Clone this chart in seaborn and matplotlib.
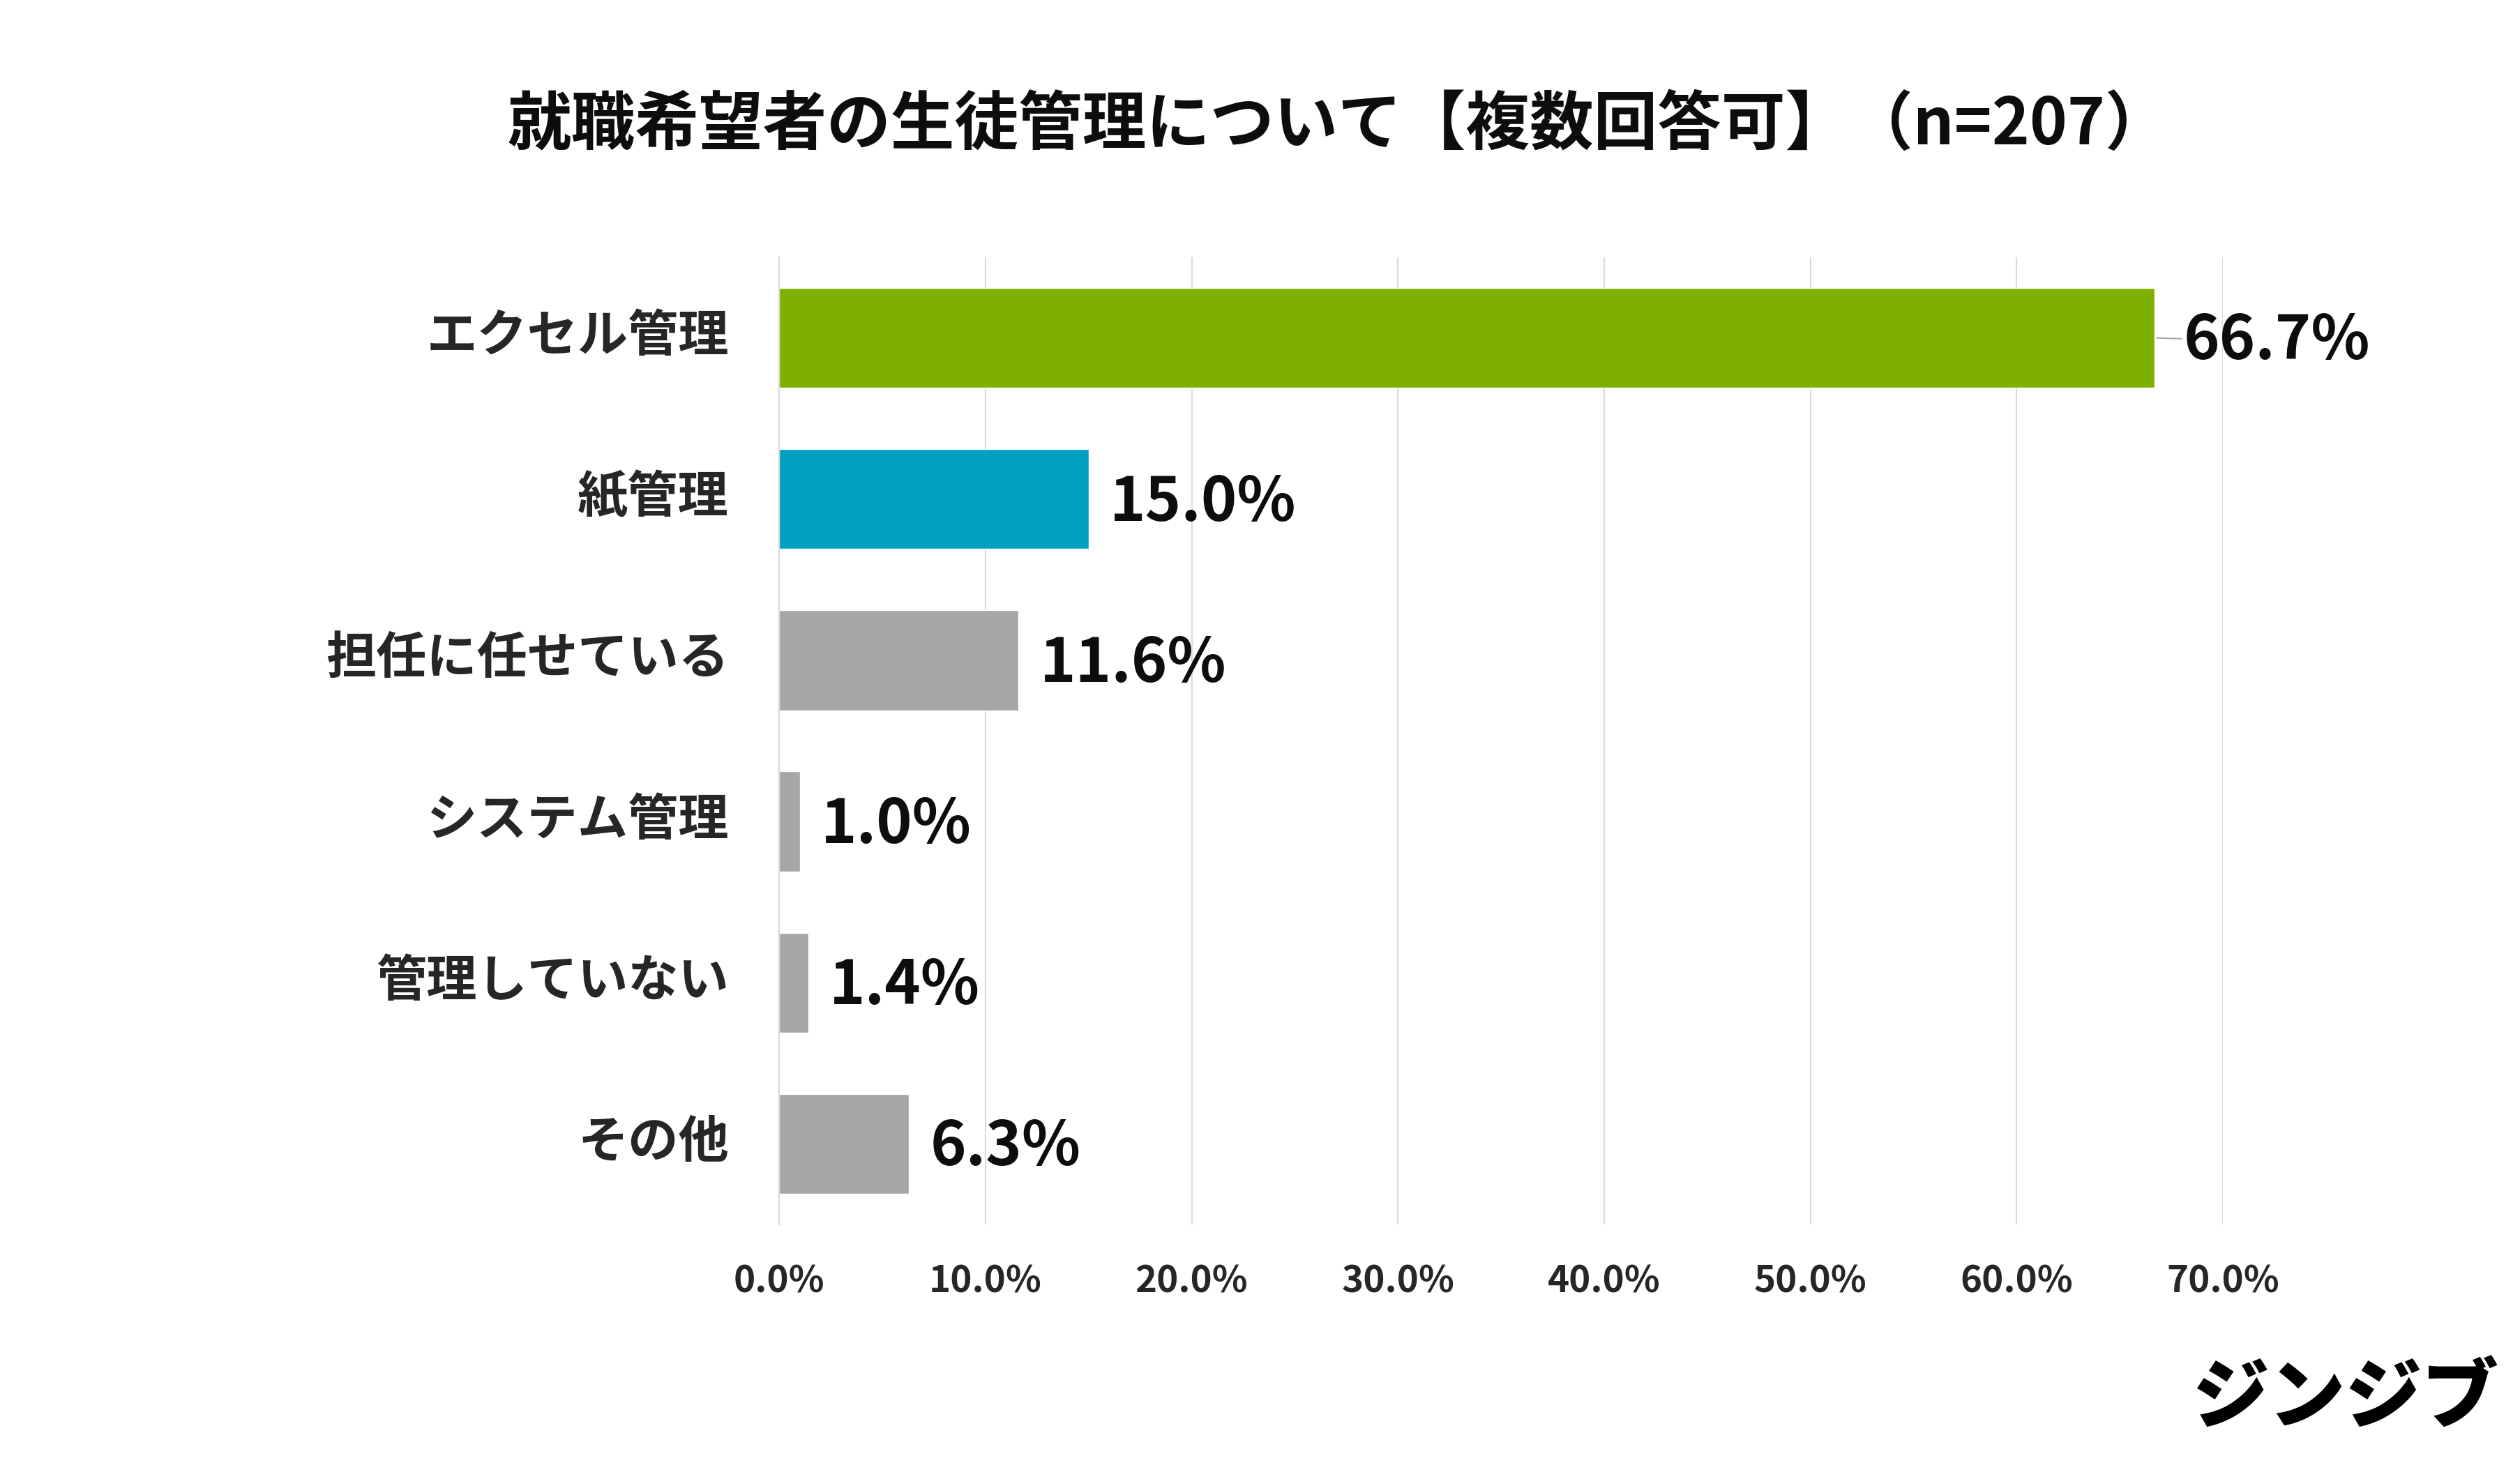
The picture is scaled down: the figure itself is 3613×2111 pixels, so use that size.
import numpy as np
import pandas as pd
import matplotlib
matplotlib.use("Agg")
import matplotlib.pyplot as plt
import matplotlib.transforms as mtransforms
import seaborn as sns

# data
categories = ["エクセル管理", "紙管理", "担任に任せている", "システム管理", "管理していない", "その他"]
shares = [66.7, 15.0, 11.6, 1.0, 1.4, 6.3]
bar_colors = ["#7FB000", "#00A0C0", "#A6A6A6", "#A6A6A6", "#A6A6A6", "#A6A6A6"]
x_ticks = [0, 10, 20, 30, 40, 50, 60, 70]
title = "就職希望者の生徒管理について【複数回答可】（n=207）"

sns.set_theme(style="white")
plt.rcParams['font.family'] = ['Noto Sans CJK JP', 'DejaVu Sans']

df = pd.DataFrame({"cat": categories, "share": shares})

fig = plt.figure(figsize=(36.13, 21.11), dpi=100)
ax = fig.add_axes([0.3092, 0.1682, 0.5729, 0.6570])

sns.barplot(data=df, x="share", y="cat", hue="cat", palette=bar_colors,
            order=categories, hue_order=categories, width=0.62,
            legend=False, ax=ax, saturation=1)

ax.set_xlim(0, 70)
ax.set_ylim(len(categories) - 0.5, -0.5)
ax.set_xticks(x_ticks)
ax.set_xticklabels([f"{t:.1f}%" for t in x_ticks], fontsize=38, fontweight="bold")
ax.set_yticks(range(len(categories)))
ax.set_yticklabels(categories, fontsize=52, fontweight="bold")
ax.set_yticks(np.arange(-0.5, len(categories), 1), minor=True)
ax.tick_params(axis="y", which="major", length=0, pad=52)
ax.tick_params(axis="y", which="minor", length=13, width=1.5, color="#D9D9D9")
ax.tick_params(axis="x", length=0, pad=40)
ax.set_xlabel("")
ax.set_ylabel("")

# nudge category labels up a little
shift = mtransforms.ScaledTranslation(0, 7 / 72, fig.dpi_scale_trans)
for lab in ax.get_yticklabels():
    lab.set_transform(lab.get_transform() + shift)

ax.grid(axis="x", color="#D9D9D9", linewidth=1.5)
ax.set_axisbelow(True)
for s in ["top", "right", "bottom"]:
    ax.spines[s].set_visible(False)
ax.spines["left"].set_color("#D9D9D9")
ax.spines["left"].set_linewidth(1.5)

for i, v in enumerate(shares):
    if i == 0:
        ax.annotate(f"{v:.1f}%", xy=(v, i), xytext=(30, -4), textcoords="offset points",
                    ha="left", va="center", fontsize=63, fontweight="bold", color="#0D0D0D",
                    arrowprops=dict(arrowstyle="-", color="#A6A6A6", lw=1.5, shrinkA=0, shrinkB=2))
    else:
        ax.annotate(f"{v:.1f}%", xy=(v, i), xytext=(22, -4), textcoords="offset points",
                    ha="left", va="center", fontsize=63, fontweight="bold", color="#0D0D0D")

fig.text(0.531, 0.9147, title, ha="center", va="center", fontsize=66, fontweight="bold", color="#0D0D0D")
fig.text(0.9917, 0.0493, "ジンジブ", ha="right", va="center", fontsize=79, fontweight="heavy", color="black")

fig.savefig("out.png", dpi=100, facecolor="white")
